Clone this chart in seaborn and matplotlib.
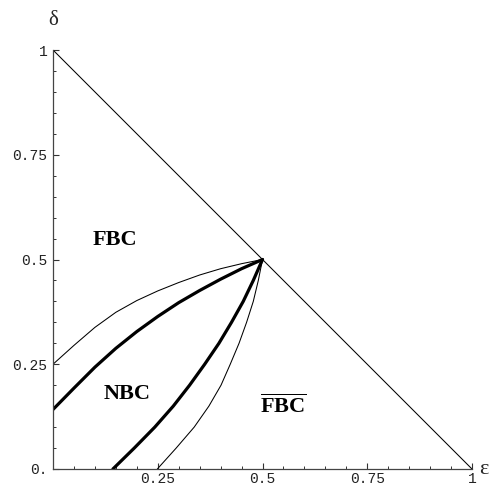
import numpy as np
import pandas as pd
import matplotlib
matplotlib.use("Agg")
import matplotlib.pyplot as plt
from matplotlib.ticker import FixedLocator, MultipleLocator
import seaborn as sns

# Boundary curves in the (epsilon, delta) plane
upper_thin_eps = [0.0, 0.05, 0.1, 0.15, 0.2, 0.25, 0.3, 0.35, 0.4, 0.45, 0.5]
upper_thin_del = [0.25, 0.295, 0.338, 0.374, 0.402, 0.425, 0.445, 0.463, 0.478, 0.490, 0.5]

upper_thick_eps = [0.0, 0.05, 0.1, 0.15, 0.2, 0.25, 0.3, 0.35, 0.4, 0.45, 0.5]
upper_thick_del = [0.142, 0.193, 0.243, 0.288, 0.328, 0.364, 0.397, 0.426, 0.453, 0.478, 0.5]

lower_thick_eps = [0.143, 0.194, 0.243, 0.287, 0.326, 0.362, 0.396, 0.426, 0.454, 0.478, 0.5]
lower_thick_del = [0.0, 0.05, 0.1, 0.15, 0.2, 0.25, 0.3, 0.35, 0.4, 0.45, 0.5]

lower_thin_eps = [0.249, 0.294, 0.337, 0.372, 0.401, 0.423, 0.444, 0.462, 0.478, 0.490, 0.5]
lower_thin_del = [0.0, 0.05, 0.1, 0.15, 0.2, 0.25, 0.3, 0.35, 0.4, 0.45, 0.5]

diag_eps = [0.0, 1.0]
diag_del = [1.0, 0.0]

x_ticks = [0.25, 0.5, 0.75, 1.0]
x_tick_labels = ["0.25", "0.5", "0.75", "1"]
y_ticks = [0.0, 0.25, 0.5, 0.75, 1.0]
y_tick_labels = ["0.", "0.25", "0.5", "0.75", "1"]

region_labels = ["FBC", "NBC", r"$\overline{\mathbf{FBC}}$"]
region_pos = [(0.148, 0.546), (0.178, 0.180), (0.549, 0.150)]

sns.set_theme(style="white")
plt.rcParams["font.family"] = ["Liberation Serif", "DejaVu Serif"]
plt.rcParams["mathtext.fontset"] = "custom"
plt.rcParams["mathtext.bf"] = "Liberation Serif:bold"
plt.rcParams["mathtext.rm"] = "Liberation Serif"

fig = plt.figure(figsize=(4.94, 4.87), dpi=100)
ax = fig.add_axes([53 / 494, 18 / 487, 419 / 494, 419 / 487])

curves = [
    (diag_eps, diag_del, 0.75),
    (upper_thin_eps, upper_thin_del, 0.75),
    (lower_thin_eps, lower_thin_del, 0.75),
    (upper_thick_eps, upper_thick_del, 2.3),
    (lower_thick_eps, lower_thick_del, 2.3),
]
for xs, ys, lw in curves:
    df = pd.DataFrame({"eps": xs, "delta": ys})
    sns.lineplot(data=df, x="eps", y="delta", sort=False, estimator=None,
                 color="black", linewidth=lw, ax=ax)

ax.set_xlim(0, 1)
ax.set_ylim(0, 1)
ax.set_xlabel("")
ax.set_ylabel("")

for side in ["top", "right"]:
    ax.spines[side].set_visible(False)
for side in ["left", "bottom"]:
    ax.spines[side].set_visible(True)
    ax.spines[side].set_color("#444444")
    ax.spines[side].set_linewidth(0.9)

ax.xaxis.set_major_locator(FixedLocator(x_ticks))
ax.set_xticklabels(x_tick_labels)
ax.yaxis.set_major_locator(FixedLocator(y_ticks))
ax.set_yticklabels(y_tick_labels)
ax.xaxis.set_minor_locator(MultipleLocator(0.05))
ax.yaxis.set_minor_locator(MultipleLocator(0.05))
ax.tick_params(which="major", direction="in", length=4, width=0.8,
               color="#333333", bottom=True, left=True)
ax.tick_params(which="minor", direction="in", length=2.5, width=0.7,
               color="#333333", bottom=True, left=True)
for lab in ax.get_xticklabels() + ax.get_yticklabels():
    lab.set_family("Liberation Mono")
    lab.set_fontsize(10.5)
    lab.set_color("#222222")
ax.tick_params(axis="x", pad=2)
ax.tick_params(axis="y", pad=4)

for text, (tx, ty) in zip(region_labels, region_pos):
    ax.text(tx, ty, text, ha="center", va="center", fontsize=16,
            fontweight="bold", family="Liberation Serif", color="black")

ax.text(0.0, 1.07, "δ", transform=ax.transAxes, ha="center", va="center",
        fontsize=15, family="Liberation Serif", clip_on=False)
ax.text(1.027, 0.0, "ε", transform=ax.transAxes, ha="center", va="center",
        fontsize=16, family="Liberation Serif", clip_on=False)

ax.grid(False)
fig.savefig("out.png", dpi=100, facecolor="white")
